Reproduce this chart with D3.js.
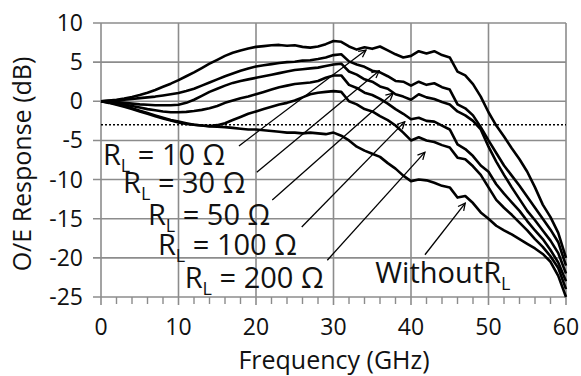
<!DOCTYPE html>
<html>
<head>
<meta charset="utf-8">
<script src="https://cdn.jsdelivr.net/npm/d3@7"></script>
<style>
	body { margin: 0; background: #fff; }
	svg { display: block; font-family: "Open Sans", sans-serif; }
</style>
</head>
<body onload="onLoad()">
<div id="chart"></div>
<script>
var freqs = [0,1,2,3,4,5,6,7,8,9,10,11,12,13,14,15,16,17,18,19,20,21,22,23,24,25,26,27,28,29,
	30,31,32,33,34,35,36,37,38,39,40,41,42,43,44,45,46,47,48,49,50,51,52,53,54,55,56,57,58,59,60];

var rl10 = [0,0.1,0.2,0.35,0.55,0.8,1.1,1.45,1.85,2.25,
	2.7,3.2,3.7,4.25,4.8,5.3,5.8,6.2,6.5,6.75,
	6.95,7.05,7.15,7.2,7.1,7.15,6.95,6.85,7.0,7.3,
	7.7,7.6,7.0,6.6,6.9,6.7,7.0,6.5,6.0,5.6,
	5.8,6.4,6.1,6.4,5.9,5.6,3.8,3.3,2.2,0.6,
	-1.4,-3.1,-4.5,-6.0,-7.4,-9.0,-11.0,-13.2,-14.8,-16.8,-20.0];

var rl30 = [0,0.05,0.1,0.2,0.3,0.4,0.5,0.6,0.75,0.9,
	1.05,1.3,1.6,2.0,2.4,2.8,3.2,3.55,3.9,4.2,
	4.45,4.6,4.75,4.9,5.0,5.05,5.2,5.25,5.4,5.6,
	5.9,6.0,5.1,4.7,4.4,3.9,3.7,3.2,2.6,2.5,
	2.0,2.5,2.1,2.3,1.8,1.5,-0.4,-0.9,-1.8,-3.3,
	-5.0,-6.6,-8.2,-9.5,-10.8,-12.2,-13.6,-15.0,-16.4,-18.0,-21.0];

var rl50 = [0,-0.05,-0.1,-0.2,-0.3,-0.4,-0.45,-0.5,-0.5,-0.5,
	-0.45,-0.2,0.2,0.7,1.2,1.6,2.0,2.35,2.6,2.8,
	3.0,3.2,3.4,3.6,3.8,4.0,4.1,4.2,4.3,4.5,
	4.7,4.8,3.8,3.4,2.8,2.5,1.9,1.6,0.9,0.6,
	0.2,0.9,0.5,0.3,-0.1,-0.4,-1.3,-1.8,-2.5,-3.6,
	-5.8,-7.7,-9.4,-11.0,-12.5,-14.0,-15.2,-16.5,-17.8,-19.4,-22.0];

var rl100 = [0,-0.1,-0.25,-0.4,-0.6,-0.8,-1.0,-1.15,-1.3,-1.4,
	-1.4,-1.35,-1.25,-1.1,-0.9,-0.6,-0.2,0.1,0.4,0.6,
	0.9,1.2,1.5,1.8,2.0,2.2,2.3,2.4,2.6,3.0,
	3.3,3.3,2.1,1.7,1.1,0.8,0.3,-0.3,-1.0,-1.6,
	-2.3,-2.1,-2.5,-2.6,-3.1,-3.6,-5.5,-6.1,-7.0,-8.2,
	-9.0,-10.6,-11.8,-12.9,-14.0,-15.3,-16.5,-17.6,-19.0,-20.6,-23.0];

var rl200 = [0,-0.15,-0.35,-0.6,-0.9,-1.2,-1.5,-1.8,-2.1,-2.4,
	-2.6,-2.8,-3.0,-3.1,-3.15,-3.05,-2.8,-2.4,-2.0,-1.6,
	-1.3,-1.0,-0.7,-0.4,-0.2,0.1,0.5,0.9,1.1,1.2,
	1.3,1.2,0.0,-0.4,-1.0,-1.3,-1.9,-2.4,-3.1,-4.0,
	-5.0,-4.6,-5.0,-5.2,-5.6,-5.9,-7.2,-7.4,-8.3,-9.4,
	-11.0,-12.6,-13.6,-14.5,-15.5,-16.5,-17.6,-18.6,-19.8,-21.3,-24.0];

var withoutRL = [0,-0.2,-0.45,-0.7,-1.0,-1.3,-1.6,-1.9,-2.2,-2.45,
	-2.7,-2.9,-3.0,-3.1,-3.2,-3.25,-3.3,-3.4,-3.5,-3.6,
	-3.6,-3.7,-3.8,-3.9,-4.0,-4.0,-4.1,-4.0,-4.1,-4.2,
	-4.0,-4.4,-5.0,-5.8,-6.3,-6.7,-7.1,-7.9,-8.6,-9.5,
	-10.2,-10.0,-10.1,-10.4,-10.8,-11.0,-12.3,-12.1,-13.0,-14.2,
	-15.0,-15.9,-16.5,-17.0,-17.6,-18.2,-18.8,-19.5,-20.5,-22.3,-25.0];

var xTicks = [0, 10, 20, 30, 40, 50, 60],
	xMinorTicks = [2,4,6,8,12,14,16,18,22,24,26,28,32,34,36,38,42,44,46,48,52,54,56,58],
	yTicks = [-25, -20, -15, -10, -5, 0, 5, 10],
	level3dB = -3;

// label text, subscript, rest; then label anchor and arrow tail / tip in data units
var labelMain = ["R", "R", "R", "R", "R", "WithoutR"],
	labelSub = ["L", "L", "L", "L", "L", "L"],
	labelRest = [" = 10 \u03A9", " = 30 \u03A9", " = 50 \u03A9", " = 100 \u03A9", " = 200 \u03A9", ""],
	labelAt = [[0.25, -8.1], [2.85, -11.7], [6.05, -15.8], [7.35, -19.6], [10.8, -23.8], [35.4, -23.2]],
	arrowFrom = [[17.8, -5.7], [20.1, -9.05], [22.1, -12.6], [25.9, -16.05], [29.2, -20.3], [41.8, -19.6]],
	arrowTo = [[34.2, 6.55], [35.9, 3.9], [37.7, 1.05], [39.2, -2.6], [41.8, -6.5], [47.0, -13.0]];

var width = 581,
	height = 376,
	gridColor = "#8c8c8c";

function onLoad() {
	var svg = d3.select("#chart")
		.append("svg")
		.attr("width", width)
		.attr("height", height);

	var x = d3.scaleLinear().domain([0, 60]).range([101, 566]);
	var y = d3.scaleLinear().domain([-25, 10]).range([297, 23]);

	svg.append("defs").append("marker")
		.attr("id", "head")
		.attr("viewBox", "0 0 10 10")
		.attr("refX", 9)
		.attr("refY", 5)
		.attr("markerWidth", 9)
		.attr("markerHeight", 9)
		.attr("markerUnits", "userSpaceOnUse")
		.attr("orient", "auto")
		.append("path")
		.attr("d", "M1,1 L9,5 L1,9")
		.attr("fill", "none")
		.attr("stroke", "#000")
		.attr("stroke-width", 1.4);

	// grid
	svg.selectAll(".vgrid")
		.data(xTicks)
		.enter().append("line")
		.attr("x1", function(d) { return x(d); })
		.attr("x2", function(d) { return x(d); })
		.attr("y1", y(10))
		.attr("y2", y(-25) + 8)
		.attr("stroke", gridColor)
		.attr("stroke-width", 1.6);

	svg.selectAll(".hgrid")
		.data(yTicks)
		.enter().append("line")
		.attr("x1", x(0) - 8)
		.attr("x2", x(60))
		.attr("y1", function(d) { return y(d); })
		.attr("y2", function(d) { return y(d); })
		.attr("stroke", gridColor)
		.attr("stroke-width", 1.6);

	svg.selectAll(".minor")
		.data(xMinorTicks)
		.enter().append("line")
		.attr("x1", function(d) { return x(d); })
		.attr("x2", function(d) { return x(d); })
		.attr("y1", y(-25))
		.attr("y2", y(-25) + 7)
		.attr("stroke", gridColor)
		.attr("stroke-width", 1.4);

	// tick labels
	svg.selectAll(".xlab")
		.data(xTicks)
		.enter().append("text")
		.attr("x", function(d) { return x(d); })
		.attr("y", 335)
		.attr("text-anchor", "middle")
		.attr("font-size", 23)
		.attr("fill", "#111")
		.text(function(d) { return d; });

	svg.selectAll(".ylab")
		.data(yTicks)
		.enter().append("text")
		.attr("x", 83)
		.attr("y", function(d) { return y(d) + 8; })
		.attr("text-anchor", "end")
		.attr("font-size", 23)
		.attr("fill", "#111")
		.text(function(d) { return d; });

	svg.append("text")
		.attr("x", 334)
		.attr("y", 369)
		.attr("text-anchor", "middle")
		.attr("font-size", 25)
		.attr("fill", "#111")
		.text("Frequency (GHz)");

	svg.append("text")
		.attr("transform", "translate(31," + 164 + ") rotate(-90)")
		.attr("text-anchor", "middle")
		.attr("font-size", 25)
		.attr("fill", "#111")
		.text("O/E Response (dB)");

	// -3 dB line
	svg.append("line")
		.attr("x1", x(0))
		.attr("x2", x(60))
		.attr("y1", y(level3dB))
		.attr("y2", y(level3dB))
		.attr("stroke", "#000")
		.attr("stroke-width", 1.3)
		.attr("stroke-dasharray", "2,2");

	// curves
	var line = d3.line()
		.x(function(d, i) { return x(freqs[i]); })
		.y(function(d) { return y(d); });

	[rl10, rl30, rl50, rl100, rl200, withoutRL].forEach(function(series) {
		svg.append("path")
			.attr("d", line(series))
			.attr("fill", "none")
			.attr("stroke", "#000")
			.attr("stroke-width", 2.6)
			.attr("stroke-linejoin", "round");
	});

	// annotations
	labelMain.forEach(function(main, i) {
		svg.append("line")
			.attr("x1", x(arrowFrom[i][0]))
			.attr("y1", y(arrowFrom[i][1]))
			.attr("x2", x(arrowTo[i][0]))
			.attr("y2", y(arrowTo[i][1]))
			.attr("stroke", "#000")
			.attr("stroke-width", 1.3)
			.attr("marker-end", "url(#head)");

		var t = svg.append("text")
			.attr("x", x(labelAt[i][0]))
			.attr("y", y(labelAt[i][1]))
			.attr("font-size", 29)
			.attr("fill", "#111");
		t.append("tspan").text(main);
		t.append("tspan")
			.attr("font-size", 18)
			.attr("dy", 7)
			.text(labelSub[i]);
		if (labelRest[i]) {
			t.append("tspan")
				.attr("dy", -7)
				.text(labelRest[i]);
		}
	});
}
</script>
</body>
</html>
